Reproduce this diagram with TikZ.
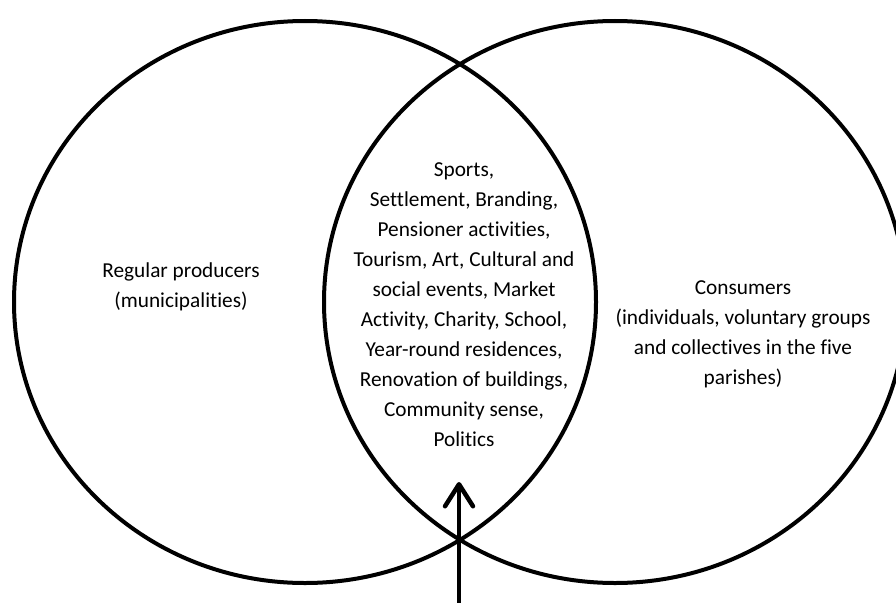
\documentclass[tikz,border=0pt]{standalone}
\usepackage{fontspec}
\setmainfont{Carlito}[Ligatures={NoCommon}]
\usetikzlibrary{arrows.meta}
\begin{document}
\begin{tikzpicture}[x=1pt,y=-1pt,
  ring/.style={line width=4pt},
  label/.style={align=center,font=\fontsize{21.3}{30}\selectfont,inner sep=0pt},
  pointer/.style={line width=4.5pt,-{Straight Barb[length=22pt,width=28pt,line cap=round,line join=round]}}]
  \useasboundingbox (0,0) rectangle (896,602);
  \clip (0,0) rectangle (896,602);
  % the two overlapping sets
  \draw[ring] (305,302) ellipse (291 and 281);
  \draw[ring] (615,302) ellipse (291 and 281);
  % set labels
  \node[label] (producers) at (181,287) {Regular producers\\(municipalities)};
  \node[label] (consumers) at (743,334) {Consumers\\(individuals, voluntary groups\\and collectives in the five\\parishes)};
  \node[label] (shared) at (464,305) {Sports,\\Settlement, Branding,\\Pensioner activities,\\Tourism, Art, Cultural and\\social events, Market\\Activity, Charity, School,\\Year-round residences,\\Renovation of buildings,\\Community sense,\\Politics};
  % arrow pointing into the overlap
  \coordinate (base) at (459,604);
  \coordinate (tip) at (459,482);
  \draw[pointer] (base) -- (tip);
\end{tikzpicture}
\end{document}
